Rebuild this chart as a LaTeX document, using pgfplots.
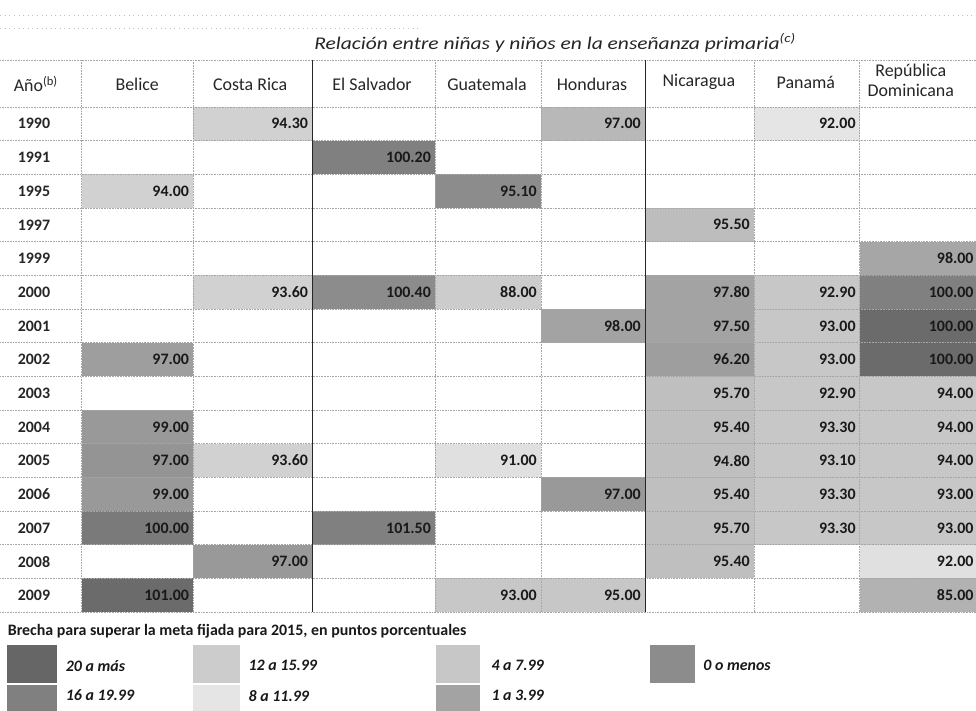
\documentclass[border=0pt]{standalone}
\usepackage{pgfplots}
\pgfplotsset{compat=1.18}
\usepackage{fontspec}
\setmainfont{Carlito}
\newfontfamily\titlefont{Carlito}[FakeStretch=1.2]
% cell: x1 x2 row-top row-bottom darkness(%)
\newcommand{\cell}[5]{\addplot[draw=none, fill=black!#5] coordinates {(#1,#3) (#2,#3) (#2,#4) (#1,#4)} -- cycle;}
\newcommand{\colline}[2]{\addplot[#2] coordinates {(#1,60) (#1,612.5)};}
\newcommand{\rowline}[1]{\addplot[gray!70, densely dotted, line width=0.6pt] coordinates {(0,#1) (976,#1)};}
\begin{document}
\begin{tikzpicture}
\begin{axis}[
  scale only axis, width=976bp, height=711bp,
  xmin=0, xmax=976, ymin=0, ymax=711, y dir=reverse,
  axis line style={draw=none}, ticks=none, clip=false,
  axis background/.style={fill=white},
]
% 1990
\cell{193}{312}{107}{140.7}{18}
\cell{541}{645}{107}{140.7}{28}
\cell{754}{860}{107}{140.7}{10}
% 1991
\cell{312}{435}{140.7}{174.4}{50}
% 1995
\cell{82}{193}{174.4}{208.1}{18}
\cell{435}{541}{174.4}{208.1}{45}
% 1997
\cell{645}{754}{208.1}{241.8}{26}
% 1999
\cell{860}{976}{241.8}{275.5}{35}
% 2000
\cell{193}{312}{275.5}{309.2}{18}
\cell{312}{435}{275.5}{309.2}{45}
\cell{435}{541}{275.5}{309.2}{20}
\cell{645}{754}{275.5}{309.2}{36}
\cell{754}{860}{275.5}{309.2}{22}
\cell{860}{976}{275.5}{309.2}{50}
% 2001
\cell{541}{645}{309.2}{342.9}{36}
\cell{645}{754}{309.2}{342.9}{36}
\cell{754}{860}{309.2}{342.9}{22}
\cell{860}{976}{309.2}{342.9}{58}
% 2002
\cell{82}{193}{342.9}{376.6}{38}
\cell{645}{754}{342.9}{376.6}{38}
\cell{754}{860}{342.9}{376.6}{22}
\cell{860}{976}{342.9}{376.6}{58}
% 2003
\cell{645}{754}{376.6}{410.3}{25}
\cell{754}{860}{376.6}{410.3}{22}
\cell{860}{976}{376.6}{410.3}{22}
% 2004
\cell{82}{193}{410.3}{444}{40}
\cell{645}{754}{410.3}{444}{25}
\cell{754}{860}{410.3}{444}{22}
\cell{860}{976}{410.3}{444}{22}
% 2005
\cell{82}{193}{444}{477.7}{42}
\cell{193}{312}{444}{477.7}{18}
\cell{435}{541}{444}{477.7}{12}
\cell{645}{754}{444}{477.7}{25}
\cell{754}{860}{444}{477.7}{22}
\cell{860}{976}{444}{477.7}{22}
% 2006
\cell{82}{193}{477.7}{511.4}{40}
\cell{541}{645}{477.7}{511.4}{40}
\cell{645}{754}{477.7}{511.4}{25}
\cell{754}{860}{477.7}{511.4}{22}
\cell{860}{976}{477.7}{511.4}{22}
% 2007
\cell{82}{193}{511.4}{545.1}{52}
\cell{312}{435}{511.4}{545.1}{50}
\cell{645}{754}{511.4}{545.1}{25}
\cell{754}{860}{511.4}{545.1}{22}
\cell{860}{976}{511.4}{545.1}{22}
% 2008
\cell{193}{312}{545.1}{578.8}{40}
\cell{645}{754}{545.1}{578.8}{25}
\cell{860}{976}{545.1}{578.8}{12}
% 2009
\cell{82}{193}{578.8}{612.5}{58}
\cell{435}{541}{578.8}{612.5}{22}
\cell{541}{645}{578.8}{612.5}{22}
\cell{860}{976}{578.8}{612.5}{30}
% ---- legend boxes
\cell{7}{57}{645}{683}{60}
\cell{7}{57}{685}{711}{50}
\cell{193}{240}{645}{683}{20}
\cell{193}{240}{685}{711}{10}
\cell{436}{480}{645}{683}{22}
\cell{436}{480}{685}{711}{36}
\cell{650}{695}{645}{683}{45}
% ---- grid lines
\addplot[gray!50, loosely dotted, line width=0.6pt] coordinates {(0,15) (976,15)};
\addplot[gray!50, loosely dotted, line width=0.6pt] coordinates {(0,28) (420,28)};
\rowline{60}
\rowline{107}
\rowline{140.7}
\rowline{174.4}
\rowline{208.1}
\rowline{241.8}
\rowline{275.5}
\rowline{309.2}
\rowline{342.9}
\rowline{376.6}
\rowline{410.3}
\rowline{444}
\rowline{477.7}
\rowline{511.4}
\rowline{545.1}
\rowline{578.8}
\rowline{612.5}
\colline{81}{gray!70, densely dotted, line width=0.6pt}
\colline{193}{gray!70, densely dotted, line width=0.6pt}
\colline{312}{black!85, line width=0.8pt}
\colline{435}{gray!70, densely dotted, line width=0.6pt}
\colline{541}{gray!70, densely dotted, line width=0.6pt}
\colline{645}{black!85, line width=0.8pt}
\colline{754}{gray!70, densely dotted, line width=0.6pt}
\colline{860}{gray!70, densely dotted, line width=0.6pt}
% ---- values
\addplot[only marks, mark=*, mark size=0pt, mark options={draw=none, fill=none},
  nodes near coords, point meta=explicit symbolic,
  nodes near coords style={anchor=east, inner sep=0pt, text=black!90,
    font=\fontsize{16}{16}\selectfont\bfseries}]
  table[meta=lab] {
x y lab
308 123.85 94.30
641 123.85 97.00
856 123.85 92.00
431 157.55 100.20
189 191.25 94.00
537 191.25 95.10
750 224.95 95.50
974 258.65 98.00
308 292.35 93.60
431 292.35 100.40
537 292.35 88.00
750 292.35 97.80
856 292.35 92.90
974 292.35 100.00
641 326.05 98.00
750 326.05 97.50
856 326.05 93.00
974 326.05 100.00
189 359.75 97.00
750 359.75 96.20
856 359.75 93.00
974 359.75 100.00
750 393.45 95.70
856 393.45 92.90
974 393.45 94.00
189 427.15 99.00
750 427.15 95.40
856 427.15 93.30
974 427.15 94.00
189 460.85 97.00
308 460.85 93.60
537 460.85 91.00
750 460.85 94.80
856 460.85 93.10
974 460.85 94.00
189 494.55 99.00
641 494.55 97.00
750 494.55 95.40
856 494.55 93.30
974 494.55 93.00
189 528.25 100.00
431 528.25 101.50
750 528.25 95.70
856 528.25 93.30
974 528.25 93.00
308 561.95 97.00
750 561.95 95.40
974 561.95 92.00
189 595.65 101.00
537 595.65 93.00
641 595.65 95.00
974 595.65 85.00
};
% ---- title and headers
\node[font=\titlefont\fontsize{18}{18}\selectfont\itshape, text=black!85] at (axis cs:555,43) {Relación entre niñas y niños en la enseñanza primaria\textsuperscript{(c)}};
\begin{scope}[every node/.style={font=\fontsize{18}{20}\selectfont, text=black!85}]
\node[anchor=west] at (axis cs:10,84) {Año\textsuperscript{(b)}};
\node at (axis cs:137,84) {Belice};
\node at (axis cs:250,84) {Costa Rica};
\node at (axis cs:372,84) {El Salvador};
\node at (axis cs:487,84) {Guatemala};
\node at (axis cs:592,84) {Honduras};
\node at (axis cs:699,82) {Nicaragua};
\node at (axis cs:806,82) {Panamá};
\node[align=center] at (axis cs:911,80) {República\\Dominicana};
\end{scope}
\begin{scope}[every node/.style={anchor=west, font=\fontsize{16}{16}\selectfont\bfseries, text=black!85}]
\node at (axis cs:14,123.85) {1990};
\node at (axis cs:14,157.55) {1991};
\node at (axis cs:14,191.25) {1995};
\node at (axis cs:14,224.95) {1997};
\node at (axis cs:14,258.65) {1999};
\node at (axis cs:14,292.35) {2000};
\node at (axis cs:14,326.05) {2001};
\node at (axis cs:14,359.75) {2002};
\node at (axis cs:14,393.45) {2003};
\node at (axis cs:14,427.15) {2004};
\node at (axis cs:14,460.85) {2005};
\node at (axis cs:14,494.55) {2006};
\node at (axis cs:14,528.25) {2007};
\node at (axis cs:14,561.95) {2008};
\node at (axis cs:14,595.65) {2009};
\end{scope}
% ---- legend texts
\node[anchor=west, font=\fontsize{16}{16}\selectfont\bfseries, text=black!90] at (axis cs:4,632) {Brecha para superar la meta fijada para 2015, en puntos porcentuales};
\begin{scope}[every node/.style={anchor=west, font=\fontsize{16}{16}\selectfont\bfseries\itshape, text=black!90}]
\node at (axis cs:62,666) {20 a más};
\node at (axis cs:62,696) {16 a 19.99};
\node at (axis cs:245,666) {12 a 15.99};
\node at (axis cs:245,696) {8 a 11.99};
\node at (axis cs:488,666) {4 a 7.99};
\node at (axis cs:488,696) {1 a 3.99};
\node at (axis cs:700,666) {0 o menos};
\end{scope}
\end{axis}
\end{tikzpicture}
\end{document}
